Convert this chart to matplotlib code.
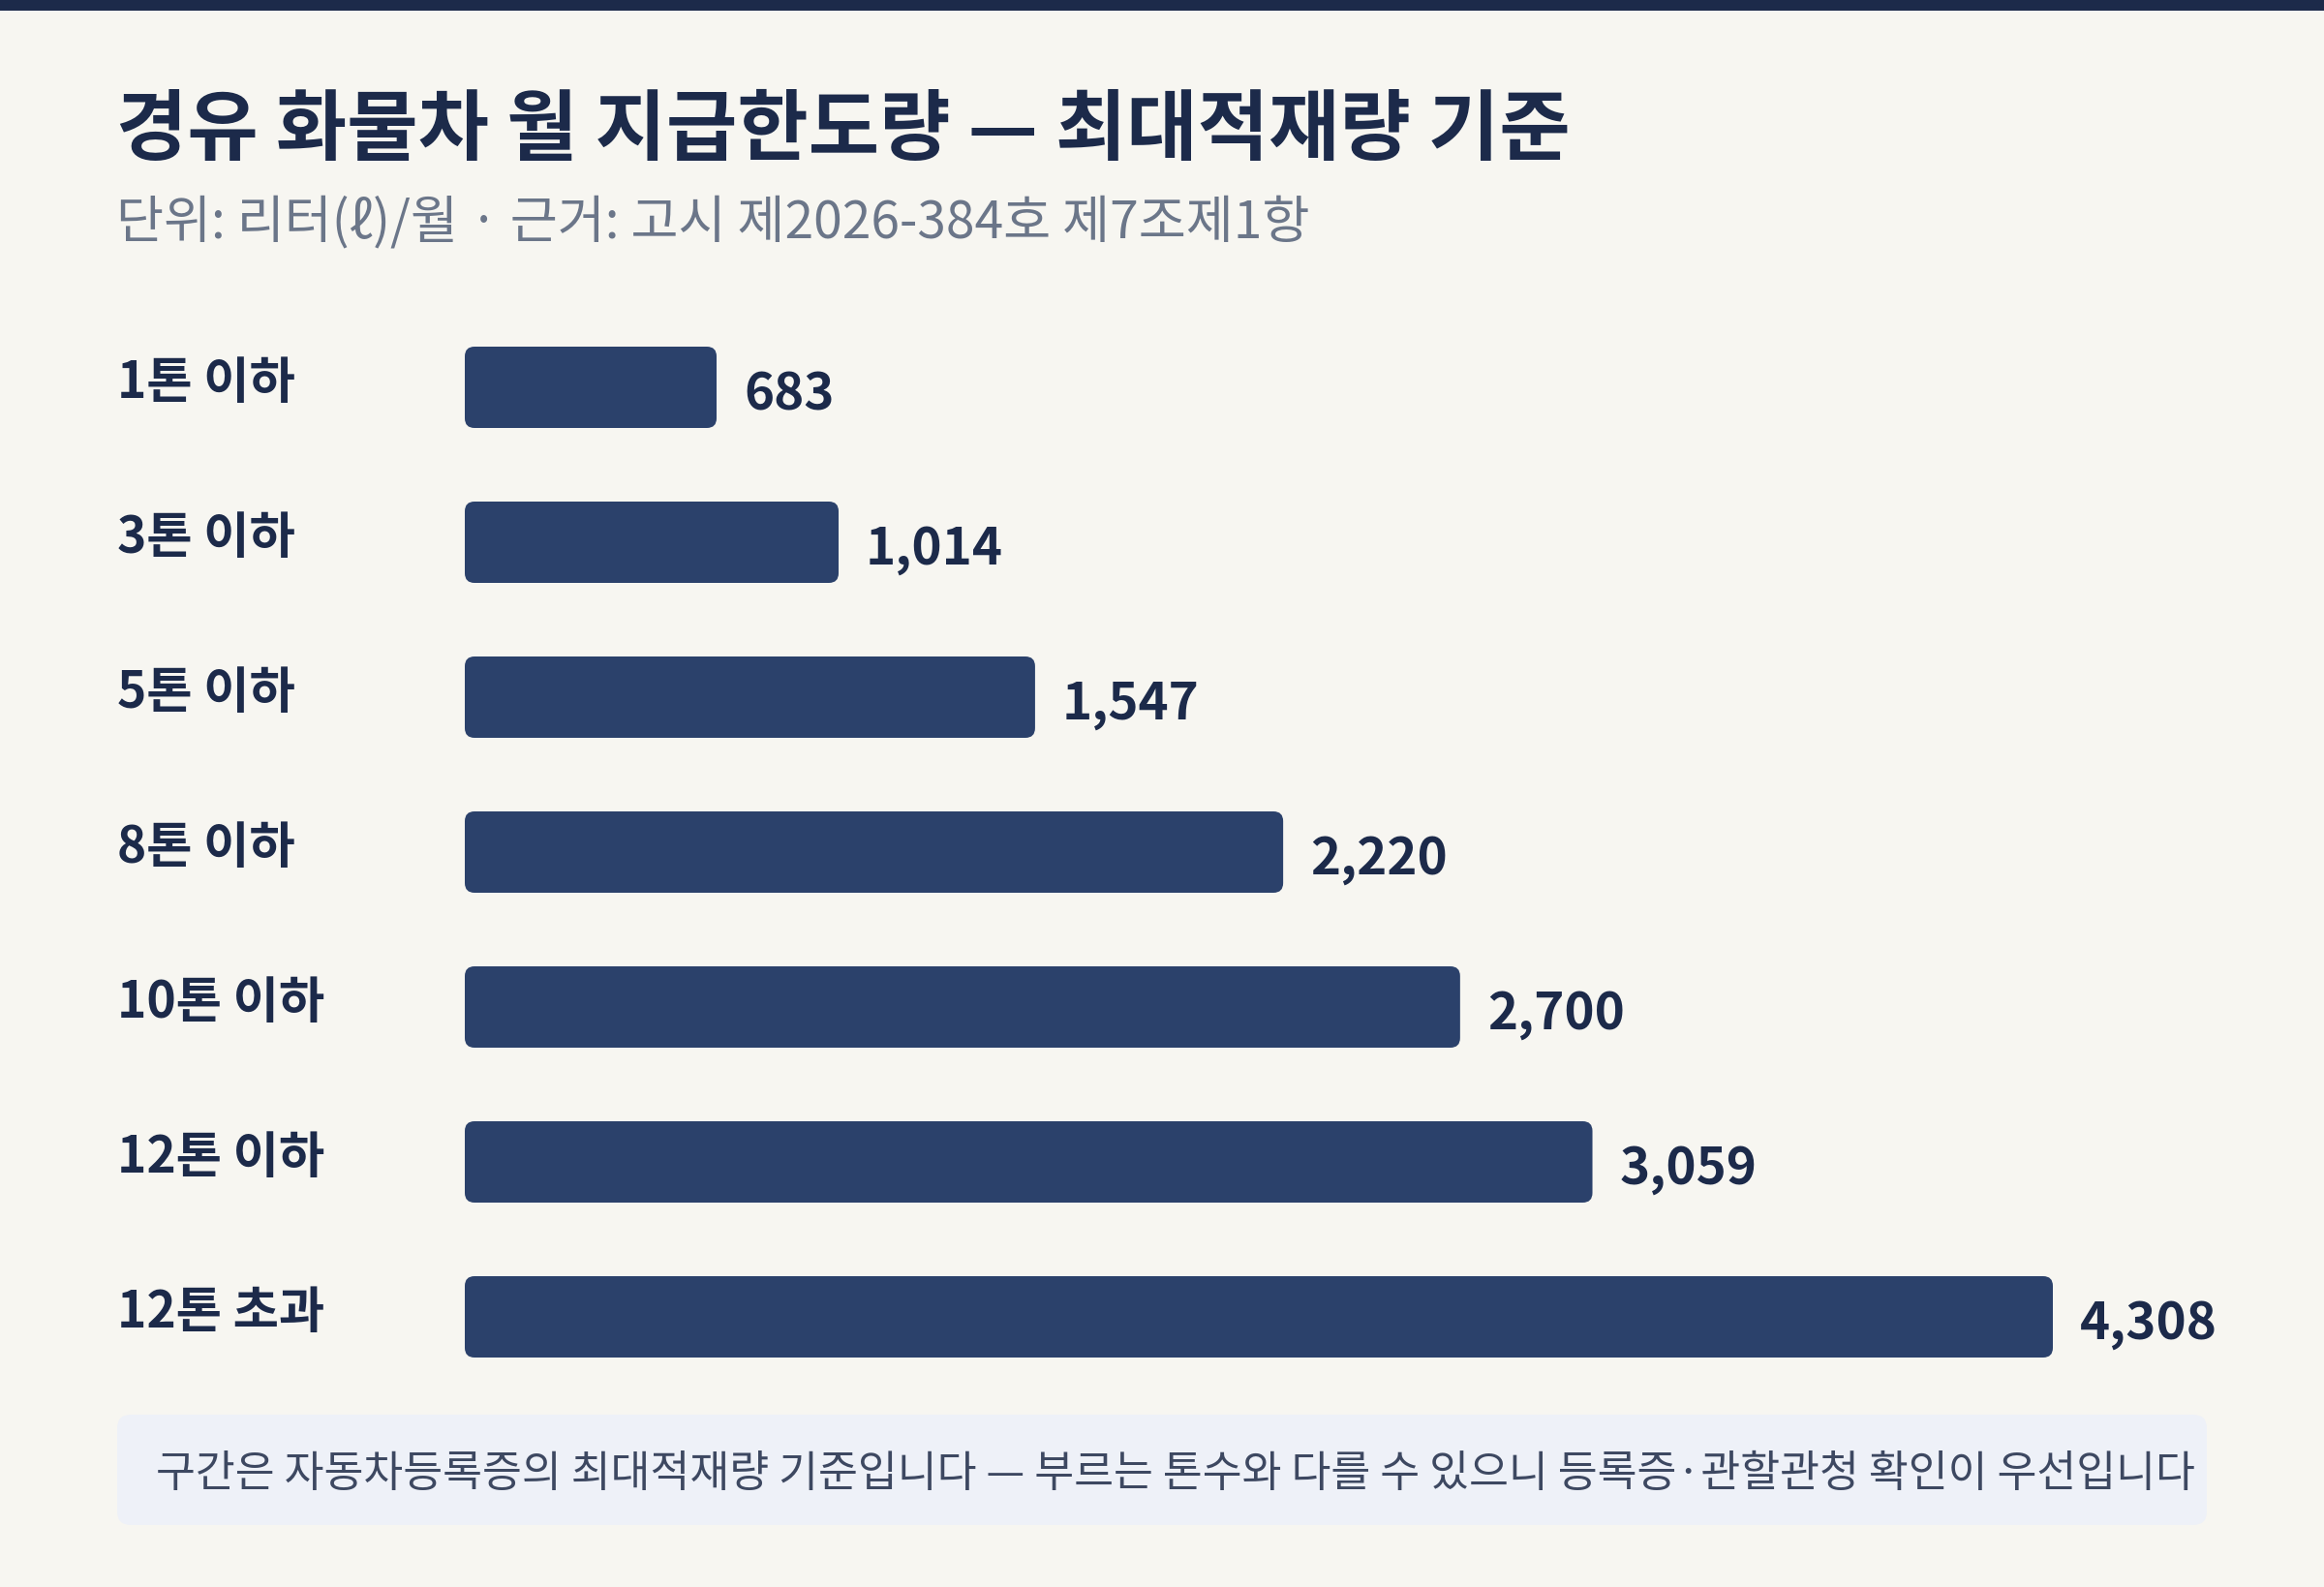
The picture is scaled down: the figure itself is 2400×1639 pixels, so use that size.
import matplotlib
matplotlib.use("Agg")
import matplotlib.pyplot as plt
from matplotlib.patches import FancyBboxPatch, Rectangle

plt.rcParams['font.family'] = ['Noto Sans CJK KR', 'DejaVu Sans']

# data
categories = ['1톤 이하', '3톤 이하', '5톤 이하', '8톤 이하', '10톤 이하', '12톤 이하', '12톤 초과']
values = [683, 1014, 1547, 2220, 2700, 3059, 4308]

title = '경유 화물차 월 지급한도량 — 최대적재량 기준'
subtitle = '단위: 리터(ℓ)/월 · 근거: 고시 제2026-384호 제7조제1항'
note = '구간은 자동차등록증의 최대적재량 기준입니다 — 부르는 톤수와 다를 수 있으니 등록증·관할관청 확인이 우선입니다'

# colours
bg = '#f7f6f1'
navy = '#1c2a4a'
bar_color = '#2b416b'
grey = '#6b7689'
note_bg = '#eef1f8'
note_fg = '#3d4861'

W, H = 2400, 1640
fig = plt.figure(figsize=(12, 8.2), dpi=200, facecolor=bg)

# top band
fig.patches.append(Rectangle((0, 1 - 12 / H), 1, 12 / H, transform=fig.transFigure,
                             facecolor=navy, edgecolor='none'))

fig.text(120 / W, 1 - 136 / H, title, fontsize=28.7, fontweight='bold', color=navy,
         va='center', ha='left')
fig.text(120 / W, 1 - 230 / H, subtitle, fontsize=19.2, color=grey,
         va='center', ha='left')

# bar area: x=0 at 480px, max value at 2120px; rows 160px apart starting at 401px
left_px, right_px = 480, 2120
top_px, bot_px = 321, 1441
ax = fig.add_axes([left_px / W, 1 - bot_px / H, (right_px - left_px) / W, (bot_px - top_px) / H])
ax.set_facecolor('none')
n = len(categories)
ax.set_xlim(0, max(values))
ax.set_ylim(n - 0.5, -0.5)
ax.axis('off')

bar_h = 84 / 160
bars = ax.barh(range(n), values, height=bar_h, color=bar_color)

# swap plain rectangles for rounded ones
px_x = (right_px - left_px) / max(values)   # px per unit in x
px_y = (bot_px - top_px) / n                # px per unit in y
radius = 10 / px_x
for rect in bars:
    fb = FancyBboxPatch((rect.get_x(), rect.get_y()), rect.get_width(), rect.get_height(),
                        boxstyle=f'round,pad=0,rounding_size={radius}',
                        mutation_aspect=px_x / px_y,
                        facecolor=bar_color, edgecolor='none')
    ax.add_patch(fb)
    rect.remove()

for i, (cat, v) in enumerate(zip(categories, values)):
    ax.text(v + 28 / px_x, i + 7 / px_y, f'{v:,}', fontsize=19, fontweight='bold',
            color=navy, va='center', ha='left')
    fig.text(121 / W, 1 - (401 + 160 * i - 5) / H, cat, fontsize=18.5, fontweight='bold',
             color=navy, va='center', ha='left')

# footnote box
bx0, bx1, by0, by1 = 121, 2279, 1462, 1576
fig.patches.append(FancyBboxPatch((bx0 / W, 1 - by1 / H), (bx1 - bx0) / W, (by1 - by0) / H,
                                  boxstyle=f'round,pad=0,rounding_size={14 / W}',
                                  mutation_aspect=W / H, transform=fig.transFigure,
                                  facecolor=note_bg, edgecolor='none'))
fig.text(161 / W, 1 - 1522 / H, note, fontsize=16, color=note_fg, va='center', ha='left')

fig.savefig('out.png', dpi=200, facecolor=bg)
